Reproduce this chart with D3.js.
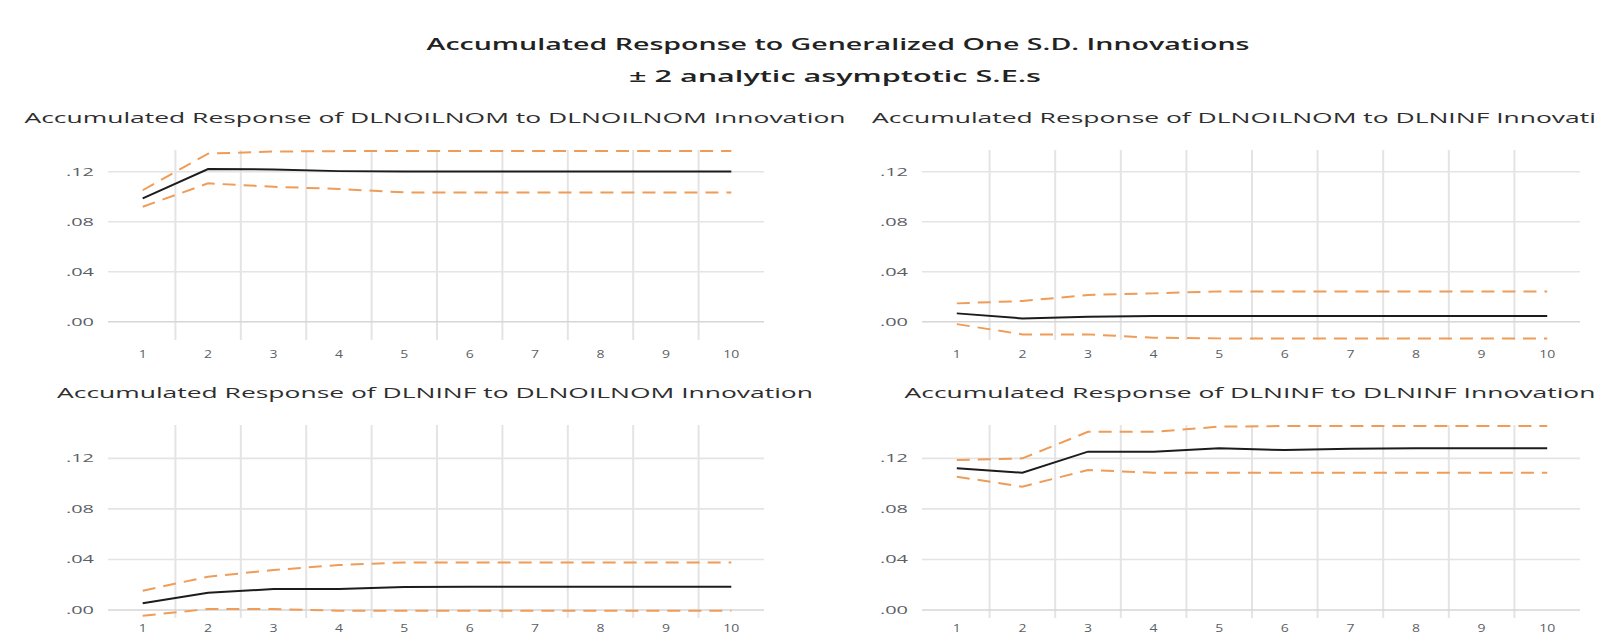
<!DOCTYPE html>
<html>
<head>
<meta charset="utf-8">
<script src="https://cdn.jsdelivr.net/npm/d3@7"></script>
<style>
    body { margin: 0; background: #fff; }
    svg { display: block; }
</style>
</head>
<body>
<svg id="svg" width="1597" height="636"></svg>
<script>
// periods on the x axis
const periods = [1, 2, 3, 4, 5, 6, 7, 8, 9, 10];
const yTicks = [0, 0.04, 0.08, 0.12];

// DLNOILNOM to DLNOILNOM
const oilOilResp = [0.0987, 0.1222, 0.1218, 0.1205, 0.1203, 0.1203, 0.1203, 0.1203, 0.1203, 0.1203];
const oilOilUpper = [0.1052, 0.1345, 0.1362, 0.1365, 0.1366, 0.1366, 0.1366, 0.1366, 0.1366, 0.1366];
const oilOilLower = [0.0920, 0.1107, 0.1080, 0.1062, 0.1035, 0.1035, 0.1035, 0.1035, 0.1035, 0.1035];

// DLNOILNOM to DLNINF
const oilInfResp = [0.0067, 0.0027, 0.0040, 0.0046, 0.0046, 0.0046, 0.0046, 0.0046, 0.0046, 0.0046];
const oilInfUpper = [0.0147, 0.0166, 0.0214, 0.0227, 0.0243, 0.0243, 0.0243, 0.0243, 0.0243, 0.0243];
const oilInfLower = [-0.0019, -0.0101, -0.0101, -0.0128, -0.0133, -0.0133, -0.0133, -0.0133, -0.0133, -0.0133];

// DLNINF to DLNOILNOM
const infOilResp = [0.0053, 0.0137, 0.0166, 0.0166, 0.0182, 0.0184, 0.0184, 0.0184, 0.0184, 0.0184];
const infOilUpper = [0.0153, 0.0264, 0.0316, 0.0356, 0.0377, 0.0377, 0.0377, 0.0377, 0.0377, 0.0377];
const infOilLower = [-0.0045, 0.0008, 0.0008, -0.0005, -0.0005, -0.0005, -0.0005, -0.0005, -0.0005, -0.0005];

// DLNINF to DLNINF
const infInfResp = [0.1121, 0.1086, 0.1253, 0.1253, 0.1280, 0.1266, 0.1276, 0.1280, 0.1280, 0.1280];
const infInfUpper = [0.1187, 0.1200, 0.1410, 0.1410, 0.1451, 0.1456, 0.1456, 0.1456, 0.1456, 0.1456];
const infInfLower = [0.1055, 0.0976, 0.1108, 0.1086, 0.1086, 0.1086, 0.1086, 0.1086, 0.1086, 0.1086];

const panelTitles = [
    'Accumulated Response of DLNOILNOM to DLNOILNOM Innovation',
    'Accumulated Response of DLNOILNOM to DLNINF Innovation',
    'Accumulated Response of DLNINF to DLNOILNOM Innovation',
    'Accumulated Response of DLNINF to DLNINF Innovation'
];
const panelSeries = [
    [oilOilResp, oilOilUpper, oilOilLower],
    [oilInfResp, oilInfUpper, oilInfLower],
    [infOilResp, infOilUpper, infOilLower],
    [infInfResp, infInfUpper, infInfLower]
];
// value range shown by each row of panels
const rowDomains = [[-0.0146, 0.1374], [-0.0063, 0.1464]];

const svg = d3.select('#svg');
const orange = '#ee9c58';
const gridColor = '#e4e4e4';
const labelColor = '#5b5f66';

// layout
const cols = [{ x0: 110, x1: 764 }, { x0: 924, x1: 1580 }];
const rows = [{ top: 150, bottom: 340, titleY: 123, labelY: 358 }, { top: 425, bottom: 618, titleY: 398, labelY: 632 }];

// stretched text, the reference glyphs are wide
function stretchText(sel, width) {
    sel.attr('textLength', width).attr('lengthAdjust', 'spacingAndGlyphs');
}

svg.append('text')
    .attr('x', 838).attr('y', 50)
    .attr('text-anchor', 'middle')
    .style('font-family', 'Open Sans')
    .style('font-size', '16px')
    .style('font-weight', 600)
    .style('fill', '#222')
    .text('Accumulated Response to Generalized One S.D. Innovations')
    .call(stretchText, 823);

svg.append('text')
    .attr('x', 835).attr('y', 82)
    .attr('text-anchor', 'middle')
    .style('font-family', 'Open Sans')
    .style('font-size', '16px')
    .style('font-weight', 600)
    .style('fill', '#222')
    .text('\u00B1 2 analytic asymptotic S.E.s')
    .call(stretchText, 412);

let titleStretch = null;

panelTitles.forEach(function (title, i) {
    const c = cols[i % 2],
        r = rows[Math.floor(i / 2)];
    const series = panelSeries[i];

    const x = d3.scaleBand().domain(periods).range([c.x0, c.x1]);
    const y = d3.scaleLinear().domain(rowDomains[Math.floor(i / 2)]).range([r.bottom, r.top]);
    const cx = d => x(d) + x.bandwidth() / 2;

    const g = svg.append('g');

    // vertical grid sits between periods
    g.append('g')
        .selectAll('line')
        .data(periods.slice(1))
        .join('line')
        .attr('x1', d => x(d)).attr('x2', d => x(d))
        .attr('y1', r.top).attr('y2', r.bottom)
        .attr('stroke', gridColor)
        .attr('stroke-width', 2);

    g.append('g')
        .selectAll('line')
        .data(yTicks)
        .join('line')
        .attr('x1', c.x0 - 2).attr('x2', c.x1)
        .attr('y1', d => y(d)).attr('y2', d => y(d))
        .attr('stroke', d => d === 0 ? '#d6d6d6' : gridColor)
        .attr('stroke-width', 1.6);

    g.append('g')
        .selectAll('text')
        .data(yTicks)
        .join('text')
        .attr('x', c.x0 - 16)
        .attr('y', d => y(d) + 4)
        .attr('text-anchor', 'end')
        .style('font-family', 'Open Sans')
        .style('font-size', '11px')
        .style('fill', labelColor)
        .text(d => d3.format('.2f')(d).replace(/^0/, ''))
        .call(stretchText, 28);

    g.append('g')
        .selectAll('text')
        .data(periods)
        .join('text')
        .attr('x', d => cx(d))
        .attr('y', r.labelY)
        .attr('text-anchor', 'middle')
        .style('font-family', 'Open Sans')
        .style('font-size', '11px')
        .style('fill', labelColor)
        .text(d => d)
        .each(function (d) {
            d3.select(this).call(stretchText, String(d).length * 8);
        });

    const line = d3.line()
        .x((d, k) => cx(periods[k]))
        .y(d => y(d));

    [series[1], series[2]].forEach(function (band) {
        g.append('path')
            .attr('d', line(band))
            .attr('fill', 'none')
            .attr('stroke', orange)
            .attr('stroke-width', 2)
            .attr('stroke-dasharray', '13,8');
    });

    g.append('path')
        .attr('d', line(series[0]))
        .attr('fill', 'none')
        .attr('stroke', '#1c1c1c')
        .attr('stroke-width', 2);

    const t = g.append('text')
        .attr('x', (c.x0 + c.x1) / 2 - 2)
        .attr('y', r.titleY)
        .attr('text-anchor', 'middle')
        .style('font-family', 'Open Sans')
        .style('font-size', '14px')
        .style('fill', '#2e2e2e')
        .text(title);
    if (titleStretch === null) {
        titleStretch = 821 / t.node().getComputedTextLength();
    }
    t.call(stretchText, t.node().getComputedTextLength() * titleStretch);
});
</script>
</body>
</html>
